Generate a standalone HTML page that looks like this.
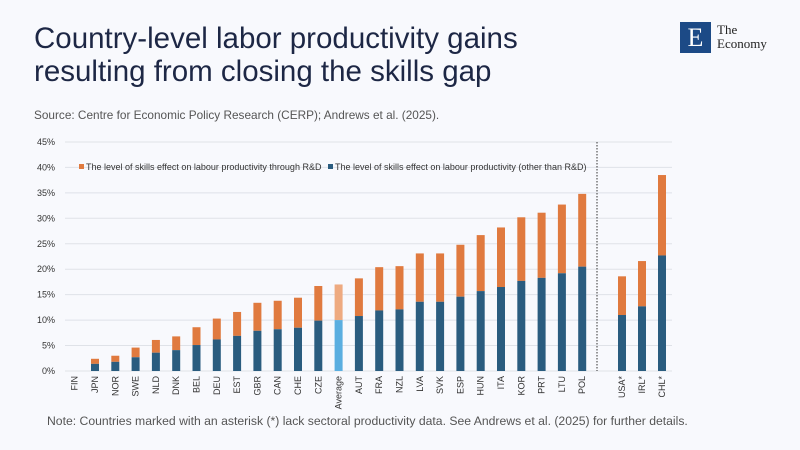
<!DOCTYPE html>
<html><head><meta charset="utf-8"><style>
body{margin:0;width:800px;height:450px;background:#f8f9fd;overflow:hidden;font-family:"Liberation Sans",sans-serif;position:relative}
.t{position:absolute;left:34px;top:22px;font-size:29.5px;line-height:33px;color:#1d2745}
.s{position:absolute;left:34px;top:108px;font-size:11.8px;color:#555}
.n{position:absolute;left:47px;top:414px;font-size:12.2px;color:#555}
</style></head><body>
<div class="t">Country-level labor productivity gains<br>resulting from closing the skills gap</div>
<div class="s">Source: Centre for Economic Policy Research (CERP); Andrews et al. (2025).</div>
<div style="position:absolute;left:680px;top:22px;width:31px;height:31px;background:#1c4a86;color:#fff;font-family:'Liberation Serif',serif;font-size:26px;line-height:31px;text-align:center">E</div>
<div style="position:absolute;left:717px;top:23px;font-family:'Liberation Serif',serif;font-size:13px;line-height:14px;color:#222">The<br>Economy</div>
<svg width="800" height="450" style="position:absolute;left:0;top:0" id="c"></svg>
<div class="n">Note: Countries marked with an asterisk (*) lack sectoral productivity data. See Andrews et al. (2025) for further details.</div>
<script>
const d=[["FIN",0,0],["JPN",2.4,1.4],["NOR",3,1.8],["SWE",4.6,2.7],["NLD",6.1,3.6],["DNK",6.8,4.1],["BEL",8.6,5.1],["DEU",10.3,6.2],["EST",11.6,6.9],["GBR",13.4,7.9],["CAN",13.8,8.2],["CHE",14.4,8.5],["CZE",16.7,9.9],["Average",17,10],["AUT",18.2,10.8],["FRA",20.4,11.9],["NZL",20.6,12.1],["LVA",23.1,13.6],["SVK",23.1,13.6],["ESP",24.8,14.6],["HUN",26.7,15.7],["ITA",28.2,16.5],["KOR",30.2,17.7],["PRT",31.1,18.3],["LTU",32.7,19.2],["POL",34.8,20.5],["USA*",18.6,11,622],["IRL*",21.6,12.7,642],["CHL*",38.5,22.7,662]];
const y=v=>371-v*5.09;let s='';
for(let i=0;i<=9;i++){const yy=y(i*5);s+=`<line x1="65" x2="672" y1="${yy}" y2="${yy}" stroke="#dfe2e8" stroke-width="1"/><text x="55" y="${yy+3}" text-anchor="end" font-size="9" fill="#333">${i*5}%</text>`;}
s+=`<line x1="597" x2="597" y1="142" y2="371" stroke="#333" stroke-dasharray="1.5,1.5"/>`;
d.forEach((r,i)=>{const cx=r[3]||(74.7+i*20.3);const av=r[0]=="Average";
if(r[1]>0){s+=`<rect x="${cx-4}" y="${y(r[1])}" width="8" height="${(r[1]-r[2])*5.09}" fill="${av?'#eeaa80':'#e07a3f'}"/><rect x="${cx-4}" y="${y(r[2])}" width="8" height="${r[2]*5.09}" fill="${av?'#5aaee0':'#2a5c7f'}"/>`;}
s+=`<text transform="translate(${cx+3},376) rotate(-90)" text-anchor="end" font-size="9" fill="#333">${r[0]}</text>`;});
s+=`<rect x="79" y="164" width="5" height="5" fill="#e07a3f"/><text x="86" y="170" font-size="9" fill="#333">The level of skills effect on labour productivity through R&amp;D</text><rect x="328" y="164" width="5" height="5" fill="#2a5c7f"/><text x="335" y="170" font-size="9" fill="#333">The level of skills effect on labour productivity (other than R&amp;D)</text>`;
document.getElementById('c').innerHTML=s;
</script>
</body></html>
